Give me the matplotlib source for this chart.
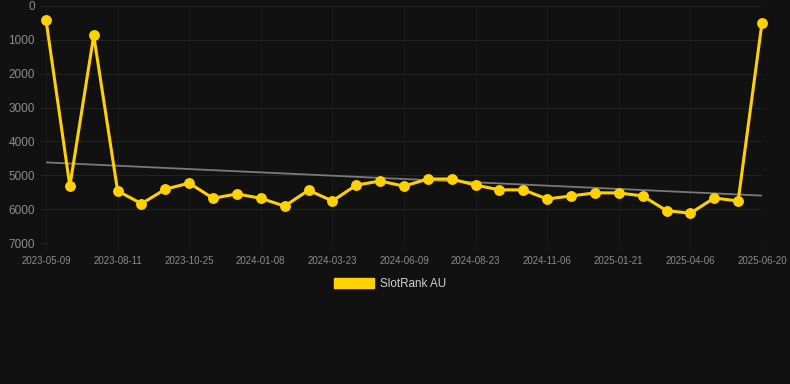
import numpy as np
import matplotlib
matplotlib.use("Agg")
import matplotlib.pyplot as plt
from matplotlib.patches import Patch

plt.rcParams["font.family"] = ["Liberation Sans", "DejaVu Sans"]

# data (rank, lower is better)
rank = [410, 5320, 870, 5460, 5840, 5410, 5230, 5680, 5550, 5680, 5910,
        5440, 5760, 5290, 5170, 5320, 5110, 5110, 5290, 5430, 5430, 5700,
        5610, 5520, 5520, 5610, 6045, 6120, 5670, 5760, 490]
tick_labels = ["2023-05-09", "2023-08-11", "2023-10-25", "2024-01-08",
               "2024-03-23", "2024-06-09", "2024-08-23", "2024-11-06",
               "2025-01-21", "2025-04-06", "2025-06-20"]
trend_ends = [4620, 5600]
series_name = "SlotRank AU"

bg = "#111111"
gold = "#FFD100"

x = np.arange(len(rank))

fig = plt.figure(figsize=(7.9, 3.84), dpi=100, facecolor=bg)
ax = fig.add_axes([46/790, 1-243/384, (762-46)/790, (243-6)/384])
ax.set_facecolor(bg)

ax.plot([x[0], x[-1]], trend_ends, color="#7a7a7a", lw=1.3, zorder=2)
ax.plot(x, rank, color=gold, lw=2.2, marker="o", ms=6.8, zorder=3,
        clip_on=False, solid_joinstyle="miter")

ax.set_xlim(x[0], x[-1])
ax.set_ylim(7000, 0)
ax.set_yticks(range(0, 7001, 1000))
ax.set_xticks(x[::3])
ax.set_xticklabels(tick_labels)

ax.grid(True, axis="y", color="#222222", lw=0.8)
ax.grid(True, axis="x", color="#1b1b1b", lw=0.8)
ax.set_axisbelow(True)
for s in ax.spines.values():
    s.set_visible(False)
ax.tick_params(axis="y", colors="#222222", labelcolor="#8c8c8c", labelsize=8.5,
               length=4, width=0.8, pad=4)
ax.tick_params(axis="x", colors="#1b1b1b", labelcolor="#8c8c8c", labelsize=7,
               length=6, width=0.8, pad=3)

leg = fig.legend(handles=[Patch(color=gold, label=series_name)],
                 loc="center", bbox_to_anchor=(390/790, 1-284/384),
                 frameon=False, handlelength=3.4, handleheight=1.0,
                 handletextpad=0.5, fontsize=8.4)
for t in leg.get_texts():
    t.set_color("#d0d0d0")

fig.savefig("out.png", dpi=100, facecolor=bg)
